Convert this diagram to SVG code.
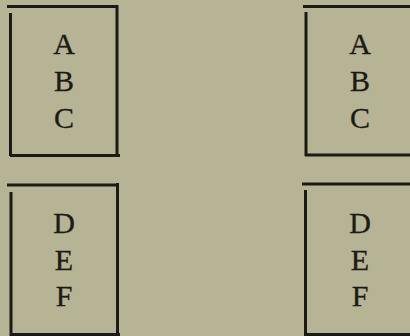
<svg xmlns="http://www.w3.org/2000/svg" width="410" height="336" viewBox="0 0 410 336">
<style>
.bg{fill:#b6b494}
.ln{stroke:#1c1a14;stroke-width:3;fill:none;stroke-linecap:butt}
.lt{font-family:"Liberation Serif","Times New Roman",serif;font-size:30px;fill:#1c1a14;stroke:#1c1a14;stroke-width:0.3;text-anchor:middle}
</style>
<rect class="bg" x="0" y="0" width="410" height="336"/>
<g id="box-abc-left">
<path class="ln" d="M7 6.5H118M10.5 13V156M117 5V154M10 155.5H120"/>
<text class="lt" x="64" y="54">A</text>
<text class="lt" x="64" y="91">B</text>
<text class="lt" x="64" y="128">C</text>
</g>
<g id="box-def-left">
<path class="ln" d="M7 185H119M11 192V336M117.5 183V333M10 334.5H120"/>
<text class="lt" x="64" y="233">D</text>
<text class="lt" x="64" y="270">E</text>
<text class="lt" x="64" y="306">F</text>
</g>
<g id="box-abc-right">
<path class="ln" d="M303 6.5H412M306 12V156M305 155H412"/>
<text class="lt" x="360" y="54">A</text>
<text class="lt" x="360" y="91">B</text>
<text class="lt" x="360" y="128">C</text>
</g>
<g id="box-def-right">
<path class="ln" d="M302 184H412M305.5 190V336M305 334.5H412"/>
<text class="lt" x="360" y="233">D</text>
<text class="lt" x="360" y="270">E</text>
<text class="lt" x="360" y="306">F</text>
</g>
<g id="connectors"></g>
</svg>
